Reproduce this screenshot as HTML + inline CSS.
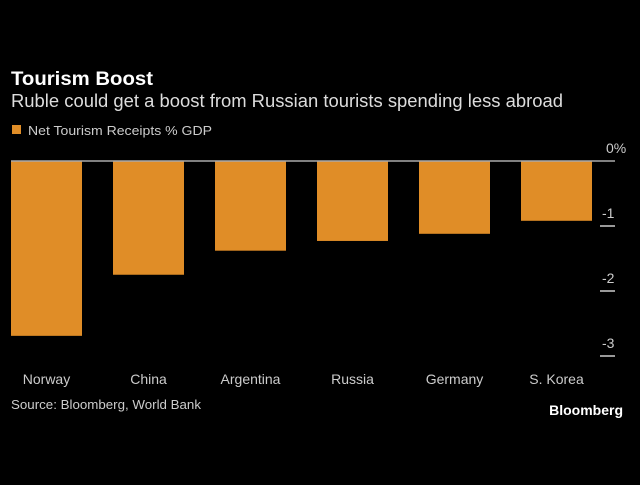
<!DOCTYPE html>
<html><head><meta charset="utf-8"><style>
body{margin:0;background:#000;width:640px;height:480px;overflow:hidden;font-family:"Liberation Sans",sans-serif;}
svg text{font-family:"Liberation Sans",sans-serif;}
</style></head><body>
<svg width="640" height="480">
<text x="11" y="85" fill="#fff" font-size="19" font-weight="bold" textLength="142" lengthAdjust="spacingAndGlyphs">Tourism Boost</text>
<text x="11" y="107" fill="#ddd" font-size="18" textLength="552" lengthAdjust="spacingAndGlyphs">Ruble could get a boost from Russian tourists spending less abroad</text>
<rect x="12" y="125" width="9" height="9" fill="#e08d27"/>
<text x="28" y="135" fill="#ccc" font-size="13" textLength="184" lengthAdjust="spacingAndGlyphs">Net Tourism Receipts % GDP</text>
<g id="bars"></g>
<line x1="11" y1="161" x2="615" y2="161" stroke="#aaa" stroke-width="1.5"/>
<g id="axis"></g>
<text x="11" y="409" fill="#ccc" font-size="13" textLength="190" lengthAdjust="spacingAndGlyphs">Source: Bloomberg, World Bank</text>
<text x="623" y="415" fill="#fff" font-size="14" font-weight="bold" text-anchor="end">Bloomberg</text>
</svg>
<script>
const categories=["Norway","China","Argentina","Russia","Germany","S. Korea"];
const values=[-2.69,-1.75,-1.38,-1.23,-1.12,-0.92];
const ticks=[0,-1,-2,-3];
const tickLabels=["0%","-1","-2","-3"];
const NS="http://www.w3.org/2000/svg";
function y(v){return 161-v*65;}
function x(i){return 11+i*102;}
const bars=document.getElementById('bars'),axis=document.getElementById('axis');
categories.forEach((c,i)=>{
 const r=document.createElementNS(NS,'rect');
 r.setAttribute('x',x(i));r.setAttribute('width',71);
 r.setAttribute('y',Math.min(y(0),y(values[i])));r.setAttribute('height',Math.abs(y(values[i])-y(0)));
 r.setAttribute('fill','#e08d27');
 
 
 bars.appendChild(r);
 const t=document.createElementNS(NS,'text');
 t.setAttribute('x',x(i)+35.5);t.setAttribute('y',384);t.setAttribute('text-anchor','middle');
 t.setAttribute('fill','#ccc');t.setAttribute('font-size','14');t.textContent=c;
 
 
 axis.appendChild(t);
});
ticks.forEach((v,i)=>{
 if(v!==0){const l=document.createElementNS(NS,'line');
 l.setAttribute('x1',600);l.setAttribute('x2',615);l.setAttribute('y1',y(v));l.setAttribute('y2',y(v));
 l.setAttribute('stroke','#ccc');l.setAttribute('stroke-width','1.5');
 
 
 axis.appendChild(l);}
 const t=document.createElementNS(NS,'text');
 t.setAttribute('x',v===0?606:602);t.setAttribute('y',y(v)-8);
 t.setAttribute('fill','#ccc');t.setAttribute('font-size','14');t.textContent=tickLabels[i];
 
 
 axis.appendChild(t);
});
</script>
</body></html>
